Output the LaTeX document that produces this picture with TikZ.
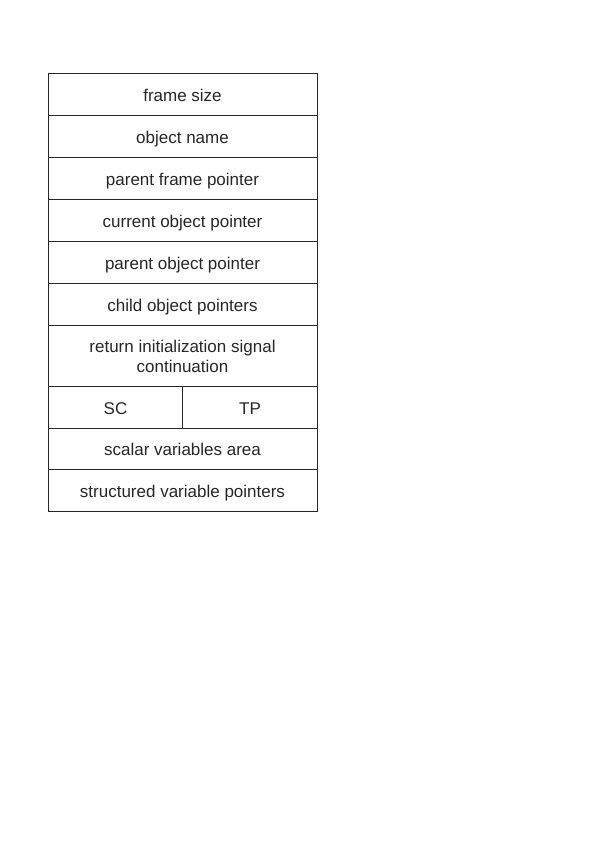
\documentclass[tikz,border=0pt]{standalone}
\usepackage{fontspec}
\setmainfont{Liberation Sans}
\usepackage{tikz}

\begin{document}
\begin{tikzpicture}[x=1pt,y=-1pt,
  cell/.style={draw=black!85, text=black!85, line width=1pt, rectangle, inner sep=0pt, minimum width=269pt, align=center, text height=14pt, text depth=0pt, font=\fontsize{17}{19.5}\selectfont},
  half/.style={cell, minimum width=134.5pt}]
\useasboundingbox (0,0) rectangle (596,842);

\node[cell, minimum height=42pt] (fsize) at (182.5,95) {frame size};
\node[cell, minimum height=42pt] (oname) at (182.5,137) {object name};
\node[cell, minimum height=42pt] (pfp) at (182.5,179) {parent frame pointer};
\node[cell, minimum height=41pt] (cop) at (182.5,220.5) {current object pointer};
\node[cell, minimum height=42pt] (pop) at (182.5,262) {parent object pointer};
\node[cell, minimum height=42pt] (chp) at (182.5,304) {child object pointers};
\node[cell, minimum height=61pt, text height=33pt] (ret) at (182.5,355.5) {return initialization signal\\continuation};
\node[half, minimum height=42pt] (sc) at (115.5,407) {SC};
\node[half, minimum height=42pt] (tp) at (250,407) {TP};
\node[cell, minimum height=41pt] (scal) at (182.5,448.5) {scalar variables area};
\node[cell, minimum height=42pt] (struc) at (182.5,490) {structured variable pointers};

\end{tikzpicture}
\end{document}
